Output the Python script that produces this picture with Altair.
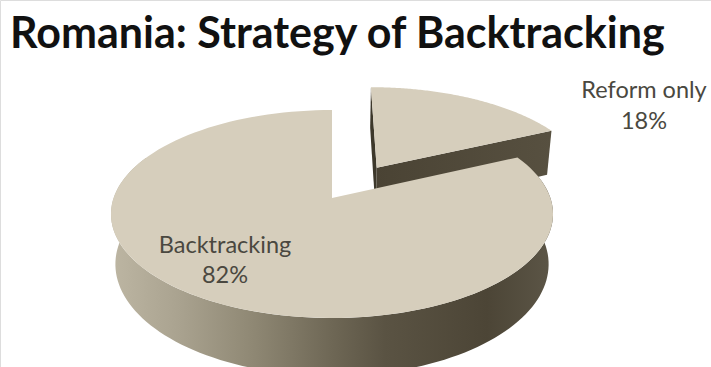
import math
import altair as alt

# Chart content
title_text = "Romania: Strategy of Backtracking"
categories = ["Reform only", "Backtracking"]
shares = [18, 82]

# Tilted-disc view: the pie is a unit disc seen through a projective camera
CX, CY = 332, 198
AX, BY, K = 218.4, 101.5, 0.154
DEPTH, BASE_SCALE = 49, 0.98
EXPLODE_X, EXPLODE_Y = 0.40, 0.37
STEPS = 120


def project(u, v, lower=False):
    w = 1 - K * v
    x = CX + AX * u / w
    y = CY + BY * v / w
    if lower:
        x = CX + (x - CX) * BASE_SCALE
        y += DEPTH / w
    return [round(x, 2), round(y, 2)]


def rim(deg, offset=(0.0, 0.0)):
    t = math.radians(deg)
    return offset[0] + math.sin(t), offset[1] - math.cos(t)


def arc_degrees(start, end):
    return [start + (end - start) * i / STEPS for i in range(STEPS + 1)]


def polygon(points):
    ring = points + [points[0]]
    return {"type": "Feature", "properties": {}, "geometry": {"type": "Polygon", "coordinates": [ring]}}


def shape_layer(points, fill):
    return alt.Chart(alt.Data(values=[polygon(points)])).mark_geoshape(
        fill=fill, strokeWidth=0, strokeOpacity=0
    )


def horizontal(stops):
    return alt.Gradient(
        gradient="linear", x1=0, x2=1, y1=0, y2=0,
        stops=[alt.GradientStop(offset=o, color=c) for o, c in stops],
    )


reform_sweep = shares[0] * 3.6
mid = math.radians(reform_sweep / 2)
shift = (EXPLODE_X * math.sin(mid), -EXPLODE_Y * math.cos(mid))

# Reform slice, pulled out along its bisector
reform_degs = arc_degrees(0, reform_sweep)
reform_top = [project(*shift)] + [project(*rim(d, shift)) for d in reform_degs]
tip = rim(reform_sweep, shift)
start = rim(0, shift)
reform_front = [project(*shift), project(*tip), project(*tip, True), project(*shift, True)]
reform_left = [project(*start), project(*shift), project(*shift, True), project(*start, True)]

# Backtracking slice: top face plus the visible part of its outer wall
big_degs = arc_degrees(reform_sweep, 360)
big_top = [project(0, 0)] + [project(*rim(d)) for d in big_degs]
wall_degs = arc_degrees(reform_sweep, 295)
big_wall = [project(*rim(d)) for d in wall_degs] + [project(*rim(d), True) for d in reversed(wall_degs)]

FACE = "#d6cebc"
LABEL = "#4a4840"

layers = [
    shape_layer(reform_left, "#3d382b"),
    shape_layer(reform_front, horizontal([(0, "#4a4334"), (1, "#575040")])),
    shape_layer(reform_top, FACE),
    shape_layer(big_wall, horizontal([
        (0, "#bdb6a3"), (0.15, "#aaa390"), (0.32, "#8f8874"), (0.5, "#6e6755"),
        (0.62, "#5a5343"), (0.85, "#4c4536"), (1, "#5c5647"),
    ])),
    shape_layer(big_top, FACE),
]

base = alt.Chart(alt.Data(values=[{}]))


def text_layer(text, x, y, size, color, weight="normal", align="center"):
    return base.mark_text(
        text=text, font="Lato", fontSize=size, fontWeight=weight, color=color,
        align=align, baseline="alphabetic",
    ).encode(x=alt.value(x), y=alt.value(y))


layers += [
    text_layer(title_text, 10, 48, 43, "#111111", "bold", "left"),
    text_layer(categories[1], 225, 253, 23.5, LABEL),
    text_layer(f"{shares[1]}%", 225, 283, 23.5, LABEL),
    text_layer(categories[0], 644, 98, 23.5, LABEL),
    text_layer(f"{shares[0]}%", 644, 129, 23.5, LABEL),
]

chart = (
    alt.layer(*layers)
    .project(type="identity", scale=1, translate=[0, 0])
    .properties(width=711, height=367, padding=0, autosize=alt.AutoSizeParams(type="none"))
    .configure_view(strokeWidth=0, strokeOpacity=0, clip=True)
    .configure(background="white")
)

chart.save("out.html", embed_options={"renderer": "svg", "actions": False})
